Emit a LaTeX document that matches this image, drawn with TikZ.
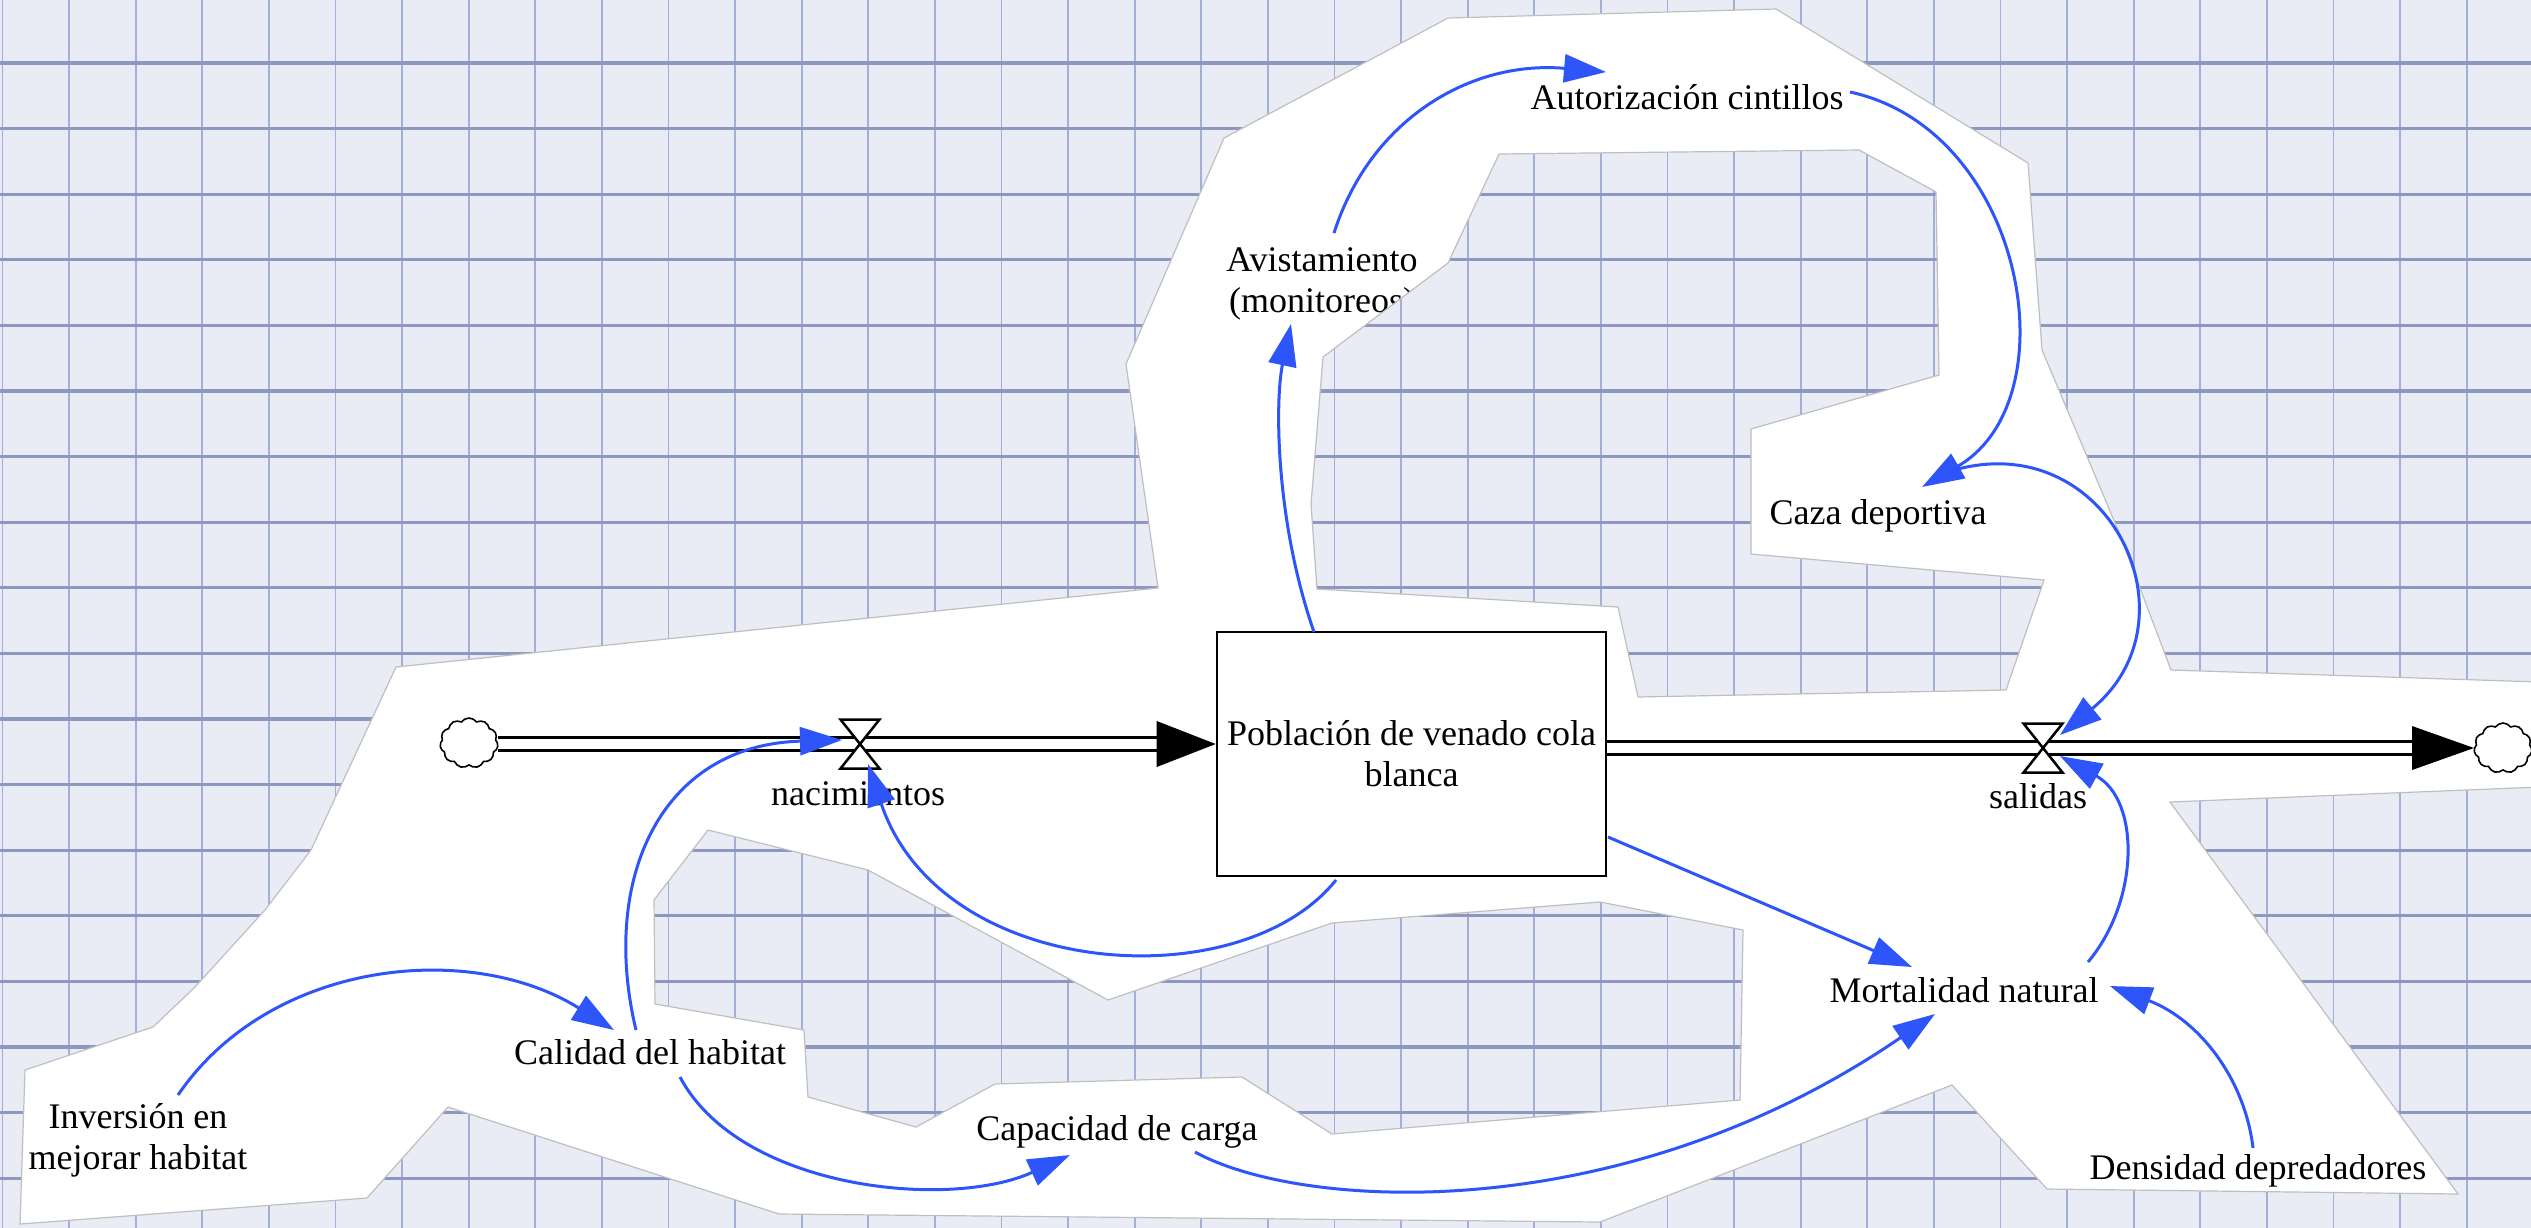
\documentclass[tikz,border=0pt]{standalone}
\usepackage{fontspec}
\setmainfont{Liberation Serif}
\usetikzlibrary{arrows.meta,shapes.symbols,calc}

\definecolor{paper}{RGB}{233,236,245}
\definecolor{gridh}{RGB}{140,152,192}
\definecolor{gridv}{RGB}{163,175,214}
\definecolor{linkblue}{RGB}{45,85,250}

% squared paper: light ground, heavier horizontal rules
\newcommand\papergrid{%
  \fill[paper] (-5,-5) rectangle (2540,1235);
  \foreach \gk in {0,...,38}
    \draw[paperv] ({2.4+66.6*\gk},-5) -- ({2.4+66.6*\gk},1235);
  \foreach \gk in {1,...,18}
    \draw[paperh] (-5,{-2.6+65.6*\gk}) -- (2540,{-2.6+65.6*\gk});
}

% outline of the cut-out sheet and the two gaps inside it
\def\sheetoutline{(20,1224) -- (367,1198) -- (448,1107) -- (779,1214) -- (1600,1222) -- (1952,1085) -- (2047,1189) -- (2458,1194) -- (2170,802) -- (2540,787) -- (2540,682) -- (2171,670) -- (2118,530) -- (2042,350) -- (2028,163) -- (1776,9) -- (1448,18) -- (1224,138) -- (1126,364) -- (1158,588) -- (396,667) -- (311,850) -- (265,910) -- (195,987) -- (153,1027) -- (25,1070) -- cycle}
\def\gapupper{(1499,154) -- (1859,150) -- (1936,192) -- (1939,375) -- (1751,429) -- (1751,554) -- (2044,580) -- (2006,690) -- (1638,697) -- (1618,607) -- (1317,589) -- (1311,504) -- (1323,357) -- (1448,263) -- cycle}
\def\gaplower{(708,830) -- (868,870) -- (1108,1000) -- (1332,923) -- (1600,902) -- (1743,930) -- (1740,1100) -- (1332,1134) -- (1242,1077) -- (995,1084) -- (916,1127) -- (808,1097) -- (804,1030) -- (655,1004) -- (654,900) -- cycle}

\begin{document}
\begin{tikzpicture}[x={(1pt,0pt)}, y={(0pt,-1pt)},
  paperv/.style={draw=gridv, line width=1.8pt},
  paperh/.style={draw=gridh, line width=3.2pt},
  cutedge/.style={draw=black!25, line width=1.2pt},
  lbl/.style={font=\fontsize{36}{41}\selectfont, inner sep=0pt, align=center},
  stock/.style={draw, line width=2.6pt, fill=white, minimum width=389pt, minimum height=244pt, align=center, font=\fontsize{36}{41}\selectfont},
  pipe/.style={draw=black, double=white, double distance=10pt, line width=3pt},
  valve/.style={draw=black, fill=white, line width=2.5pt, line join=miter},
  cloudnode/.style={cloud, cloud puffs=11, cloud puff arc=110, aspect=1.2, draw, fill=white, line width=1.6pt, minimum width=58pt, minimum height=50pt, inner sep=0pt},
  link/.style={draw=linkblue, line width=3pt, -{Triangle[length=42pt,width=28pt]}}
]
\useasboundingbox (0,0) rectangle (2531,1227);

% paper and the white sheet on it
\papergrid
\fill[white, even odd rule] \sheetoutline \gapupper \gaplower;
\draw[cutedge] \sheetoutline;
\draw[cutedge] \gaplower;

% stock, sources and sinks
\node[stock] (pop) at (1411.5,754) {Población de venado cola\\blanca};
\coordinate (nac) at (860,744);
\coordinate (sal) at (2043,748);
\coordinate (inTip) at ([shift={(0,-10)}]pop.west);
\coordinate (outStart) at ([shift={(0,-6)}]pop.east);
\coordinate (outTip) at (2474,748);

% flow pipes
\draw[pipe] (498,744) -- ([shift={(-58,0)}]inTip);
\fill (inTip) -- ++(-59,-23) -- ++(0,46) -- cycle;
\draw[pipe] (outStart) -- ([shift={(-62,0)}]outTip);
\fill (outTip) -- ++(-62,-22) -- ++(0,44) -- cycle;
\node[cloudnode] (srcL) at (469,743) {};
\node[cloudnode] (sinkR) at (2503,748) {};
\foreach \v in {nac,sal}
  \draw[valve] (\v) +(-19.5,-24.5) -- +(19.5,-24.5) -- +(-19.5,24.5) -- +(19.5,24.5) -- cycle;

% variable names
\node[lbl] (nacl) at (858,794) {nacimientos};
\node[lbl] (sall) at (2038,796) {salidas};
\node[lbl] (avis) at (1322,284) {Avistamiento\\(monitoreos)};
\node[lbl] (aut) at (1687,97) {Autorización cintillos};
\node[lbl] (caza) at (1878,516) {Caza deportiva};
\node[lbl] (mort) at (1964,990) {Mortalidad natural};
\node[lbl] (cap) at (1117,1132) {Capacidad de carga};
\node[lbl] (cal) at (650,1052) {Calidad del habitat};
\node[lbl] (inv) at (138,1140) {Inversión en\\mejorar habitat};
\node[lbl] (dens) at (2258,1171) {Densidad depredadores};

% causal links
\draw[link] ([shift={(-97.5,-122)}]pop.center) .. controls +(-39,-112) and +(-16,76) .. ([shift={(-31,40)}]avis.center);
\draw[link] ([shift={(12,-51)}]avis.center) .. controls +(36,-113) and +(-136,-12) .. ([shift={(-81,-25)}]aut.center);
\draw[link] ([shift={(163,-5)}]aut.center) .. controls +(175,38) and +(150,-87) .. ([shift={(44,-29)}]caza.center);
\draw[link] ([shift={(80,-47)}]caza.center) .. controls +(152,-39) and +(140,-115) .. ([shift={(17,-13)}]sal);
\draw[link] ([shift={(124,-28)}]mort.center) .. controls +(52,-62) and +(80,44) .. ([shift={(17,8)}]sal);
\draw[link] ([shift={(196.5,83)}]pop.center) -- ([shift={(-52,-23)}]mort.center);
\draw[link] ([shift={(78,20)}]cap.center) .. controls +(105,58) and +(-315,216) .. ([shift={(-29,24)}]mort.center);
\draw[link] ([shift={(30,25)}]cal.center) .. controls +(60,113) and +(-120,55) .. ([shift={(-47,23)}]cap.center);
\draw[link] ([shift={(-14,-22)}]cal.center) .. controls +(-36,-150) and +(-182,5) .. ([shift={(-18,-4)}]nac);
\draw[link] ([shift={(40,-45)}]inv.center) .. controls +(92,-135) and +(-144,-90) .. ([shift={(-36,-22)}]cal.center);
\draw[link] ([shift={(-5,-23)}]dens.center) .. controls +(-8,-68) and +(90,34) .. ([shift={(146,-4)}]mort.center);
\draw[link] ([shift={(-75.5,126)}]pop.center) .. controls +(-96,120) and +(72,216) .. ([shift={(8,20)}]nac);

% the upper gap in the sheet lies over the end of the monitoring label
\begin{scope}
  \clip \gapupper;
  \papergrid
\end{scope}
\draw[cutedge] \gapupper;
\end{tikzpicture}
\end{document}
